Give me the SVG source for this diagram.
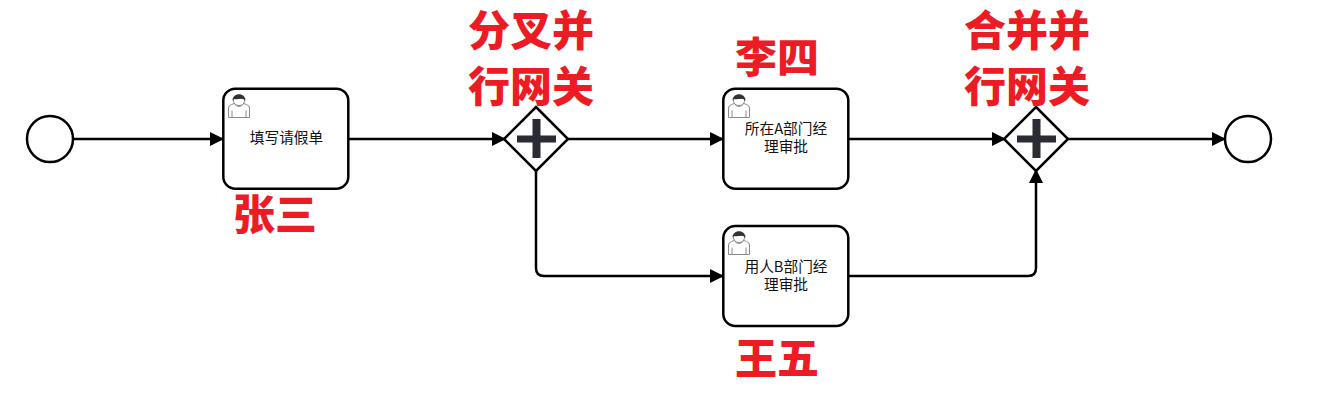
<svg xmlns="http://www.w3.org/2000/svg" width="1342" height="417" viewBox="0 0 1342 417">
<style>
.n{fill:#fff;stroke:#000;stroke-width:2.500}
.c{fill:none;stroke:#000;stroke-width:2.500;stroke-linejoin:round}
.t{font-family:"Noto Sans CJK SC",sans-serif;font-size:14.700px;fill:#111;text-anchor:middle;font-weight:400}
.b{font-family:"Noto Sans CJK SC",sans-serif;font-size:42px;font-weight:900;fill:#ed1c24;text-anchor:middle}
.p{fill:#2b2b33}
.u1{fill:#fff;stroke:#8a8a8a;stroke-width:1}
.u2{fill:#333;stroke:none}
</style>
<defs>
<marker id="a" markerUnits="userSpaceOnUse" markerWidth="14" markerHeight="14" refX="14" refY="7" orient="auto"><path d="M0 0L14 7L0 14Z" fill="#000"/></marker>
<g id="user">
<path class="u1" d="M0.500 22.500V13Q0.500 10.500 3.500 9.500L7.500 8Q5 5.500 5 3.500H17Q17 5.500 14.500 8L18.500 9.500Q21.500 10.500 21.500 13V22.500Z"/>
<path class="u1" d="M4 22.500V15.500M18 22.500V15.500M6.500 9Q11 14 15.500 9"/>
<path class="u1" d="M5.300 4Q5.300 10.500 11 10.500Q16.700 10.500 16.700 4"/>
<path class="u2" d="M4.800 6C3.500 -3 18.500 -3 17.200 6Q16 3.500 13 3.800Q8 4.600 6 4Q5 4.500 4.800 6Z"/>
</g>
</defs>
<g id="connectors">
<path class="c" marker-end="url(#a)" d="M73 139H224"/>
<path class="c" marker-end="url(#a)" d="M349 139H506"/>
<path class="c" marker-end="url(#a)" d="M568 139H724"/>
<path class="c" marker-end="url(#a)" d="M536 170V268Q536 276 544 276H724"/>
<path class="c" marker-end="url(#a)" d="M849 139H1006"/>
<path class="c" marker-end="url(#a)" d="M849 276H1028Q1036 276 1036 268V169"/>
<path class="c" marker-end="url(#a)" d="M1068 139H1226"/>
</g>
<g id="start"><circle class="n" cx="50" cy="139" r="23"/></g>
<g id="task1"><rect class="n" x="223.300" y="88.700" width="125" height="100" rx="12"/><use href="#user" x="228" y="95"/><text class="t" x="286.500" y="143">填写请假单</text></g>
<g id="gateway1"><path class="n" d="M536 107L568 139L536 171L504 139Z"/><path class="p" d="M532.500 119H540.500V135.500H556V142.500H540.500V158H532.500V142.500H517V135.500H532.500Z"/></g>
<g id="task2"><rect class="n" x="723.300" y="88.700" width="125" height="100" rx="12"/><use href="#user" x="728" y="95"/><text class="t" x="786" y="134">所在A部门经</text><text class="t" x="786" y="152">理审批</text></g>
<g id="task3"><rect class="n" x="723.300" y="226" width="125" height="100" rx="12"/><use href="#user" x="728" y="232"/><text class="t" x="786" y="272">用人B部门经</text><text class="t" x="786" y="290">理审批</text></g>
<g id="gateway2"><path class="n" d="M1036 107L1068 139L1036 171L1004 139Z"/><path class="p" d="M1032.500 119H1040.500V135.500H1056V142.500H1040.500V158H1032.500V142.500H1017V135.500H1032.500Z"/></g>
<g id="end"><circle class="n" cx="1248" cy="139" r="23"/></g>
<g id="labels">
<text class="b" x="275" y="230">张三</text>
<text class="b" x="531" y="46">分叉并</text>
<text class="b" x="531" y="102">行网关</text>
<text class="b" x="777" y="73">李四</text>
<text class="b" x="777" y="374">王五</text>
<text class="b" x="1027" y="46">合并并</text>
<text class="b" x="1027" y="102">行网关</text>
</g>
</svg>
